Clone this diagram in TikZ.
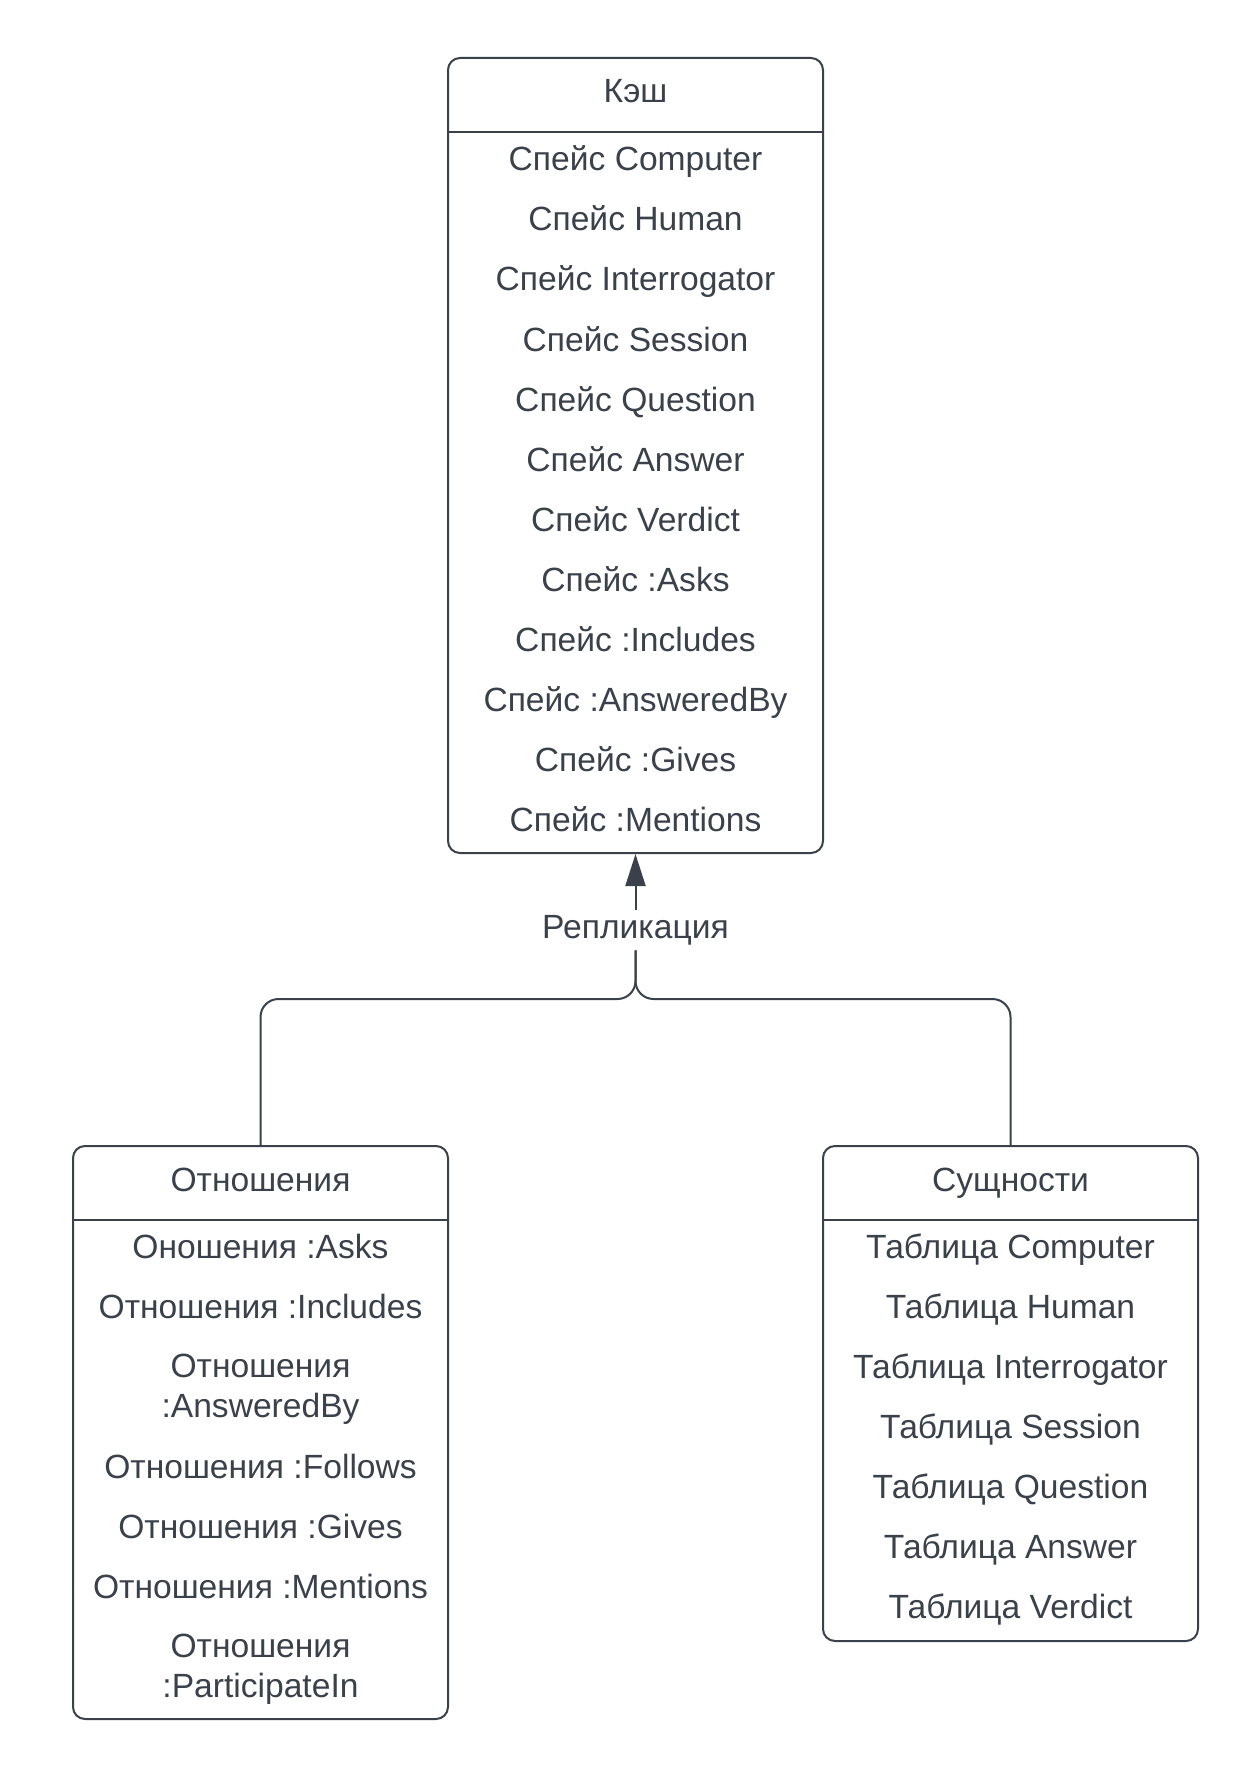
\documentclass[tikz,border=0pt]{standalone}
\usepackage{fontspec}
\setmainfont{Liberation Sans}
\usetikzlibrary{arrows.meta}
\definecolor{ink}{RGB}{58,65,74}

\tikzset{
  box/.style={draw=ink, line width=1pt, rounded corners=6pt, minimum width=187.5pt, inner sep=0pt, anchor=north},
  item/.style={inner sep=0pt, text height=12pt, text depth=0pt},
  twoline/.style={align=center, inner sep=0pt},
  rule/.style={draw=ink, line width=1pt},
  link/.style={draw=ink, line width=1pt, rounded corners=9pt}
}

\begin{document}
\begin{tikzpicture}[x=0.5pt,y=-0.5pt,font=\fontsize{16.8}{20}\selectfont,text=ink]

\useasboundingbox (0,0) rectangle (1258,1787);

% boxes
\node[box, minimum height=397.5pt] (cache) at (635.5,57) {};
\node[box, minimum height=286.5pt] (rel) at (260.5,1145) {};
\node[box, minimum height=247.5pt] (ent) at (1010.5,1145) {};

\draw[rule] (cache.west |- 0,132) -- (cache.east |- 0,132);
\draw[rule] (rel.west |- 0,1220) -- (rel.east |- 0,1220);
\draw[rule] (ent.west |- 0,1220) -- (ent.east |- 0,1220);

% titles
\node[item] (cachehead) at (635.5,91) {Кэш};
\node[item] (relhead) at (260.5,1179) {Отношения};
\node[item] (enthead) at (1010.5,1179) {Сущности};

% cache
\foreach \name [count=\i from 0] in {Computer,Human,Interrogator,Session,Question,Answer,Verdict,:Asks,:Includes,:AnsweredBy,:Gives,:Mentions}
  \node[item] (cache\i) at (635.5,{159+60*\i}) {Спейс \name};

% relations
\node[item] (rel0) at (260.5,1246) {Оношения :Asks};
\node[item] (rel1) at (260.5,1306) {Отношения :Includes};
\node[twoline] (rel2) at (260.5,1389) {Отношения\\:AnsweredBy};
\node[item] (rel3) at (260.5,1466) {Отношения :Follows};
\node[item] (rel4) at (260.5,1526) {Отношения :Gives};
\node[item] (rel5) at (260.5,1586) {Отношения :Mentions};
\node[twoline] (rel6) at (260.5,1669) {Отношения\\:ParticipateIn};

% entities
\foreach \name [count=\i from 0] in {Computer,Human,Interrogator,Session,Question,Answer,Verdict}
  \node[item] (ent\i) at (1010.5,{1246+60*\i}) {Таблица \name};

% replication
\node[inner sep=2.5pt] (repl) at (635.5,930) {Репликация};
\draw[link, -{Triangle[length=16pt, width=10pt]}] (repl.north) -- (cache.south);
\draw[link] (rel.north) |- (cache.south |- 0,999) -- (repl.south);
\draw[link] (ent.north) |- (cache.south |- 0,999) -- (repl.south);

\end{tikzpicture}
\end{document}
